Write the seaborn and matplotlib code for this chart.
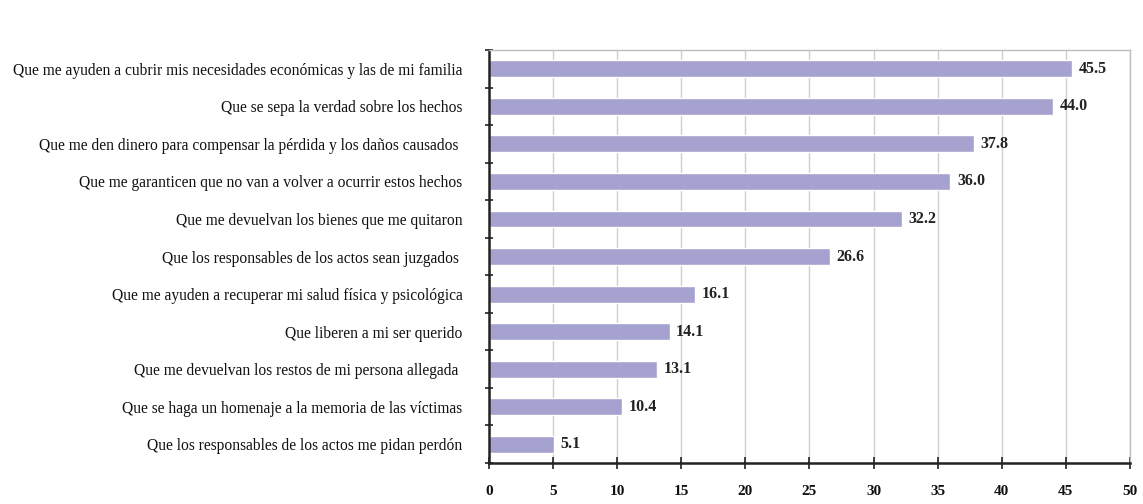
import matplotlib
matplotlib.use("Agg")
import matplotlib.pyplot as plt
import seaborn as sns
import pandas as pd
import numpy as np

categories = [
    "Que me ayuden a cubrir mis necesidades económicas y las de mi familia",
    "Que se sepa la verdad sobre los hechos",
    "Que me den dinero para compensar la pérdida y los daños causados ",
    "Que me garanticen que no van a volver a ocurrir estos hechos",
    "Que me devuelvan los bienes que me quitaron",
    "Que los responsables de los actos sean juzgados ",
    "Que me ayuden a recuperar mi salud física y psicológica",
    "Que liberen a mi ser querido",
    "Que me devuelvan los restos de mi persona allegada ",
    "Que se haga un homenaje a la memoria de las víctimas",
    "Que los responsables de los actos me pidan perdón",
]
values = [45.5, 44.0, 37.8, 36.0, 32.2, 26.6, 16.1, 14.1, 13.1, 10.4, 5.1]
x_ticks = [0, 5, 10, 15, 20, 25, 30, 35, 40, 45, 50]

df = pd.DataFrame({"cat": categories, "val": values})

sns.set_theme(style="white")
plt.rcParams['font.family'] = ['Liberation Serif', 'DejaVu Serif']

fig = plt.figure(figsize=(11.43, 5.04), dpi=100)
ax = fig.add_axes([0.4278, 0.0813, 0.5608, 0.8195])

sns.barplot(data=df, x="val", y="cat", color="#a6a2cf", saturation=1,
            width=0.45, ax=ax, orient="h")

ax.set_xlim(0, 50)
ax.set_ylim(len(categories) - 0.5, -0.5)
ax.set_xticks(x_ticks)
ax.set_xticklabels([str(t) for t in x_ticks], fontweight="bold", fontsize=11)
ax.xaxis.grid(True, color="#cfcfcf", linewidth=1)
ax.set_axisbelow(True)
ax.set_xlabel("")
ax.set_ylabel("")

ax.set_yticks(range(len(categories)))
ax.set_yticklabels(categories, fontsize=11.2)
ax.tick_params(axis="y", which="major", left=True, length=0, pad=19)
ax.set_yticks(np.arange(-0.5, len(categories), 1), minor=True)
ax.tick_params(axis="y", which="minor", left=True, length=6, direction="inout",
               width=1.2, color="#222222")
ax.tick_params(axis="x", which="major", bottom=True, length=8, direction="inout",
               width=1.2, color="#222222", pad=12)

for s in ["left", "bottom"]:
    ax.spines[s].set_color("#222222")
    ax.spines[s].set_linewidth(1.8)
for s in ["top", "right"]:
    ax.spines[s].set_color("#bdbdbd")
    ax.spines[s].set_linewidth(1)

for i, v in enumerate(values):
    ax.text(v + 0.5, i, f"{v:.1f}", va="center", ha="left",
            fontsize=11.5, fontweight="bold", color="#222222")

for lab in ax.get_yticklabels() + ax.get_xticklabels():
    lab.set_color("#111111")

fig.savefig("out.png", dpi=100)
